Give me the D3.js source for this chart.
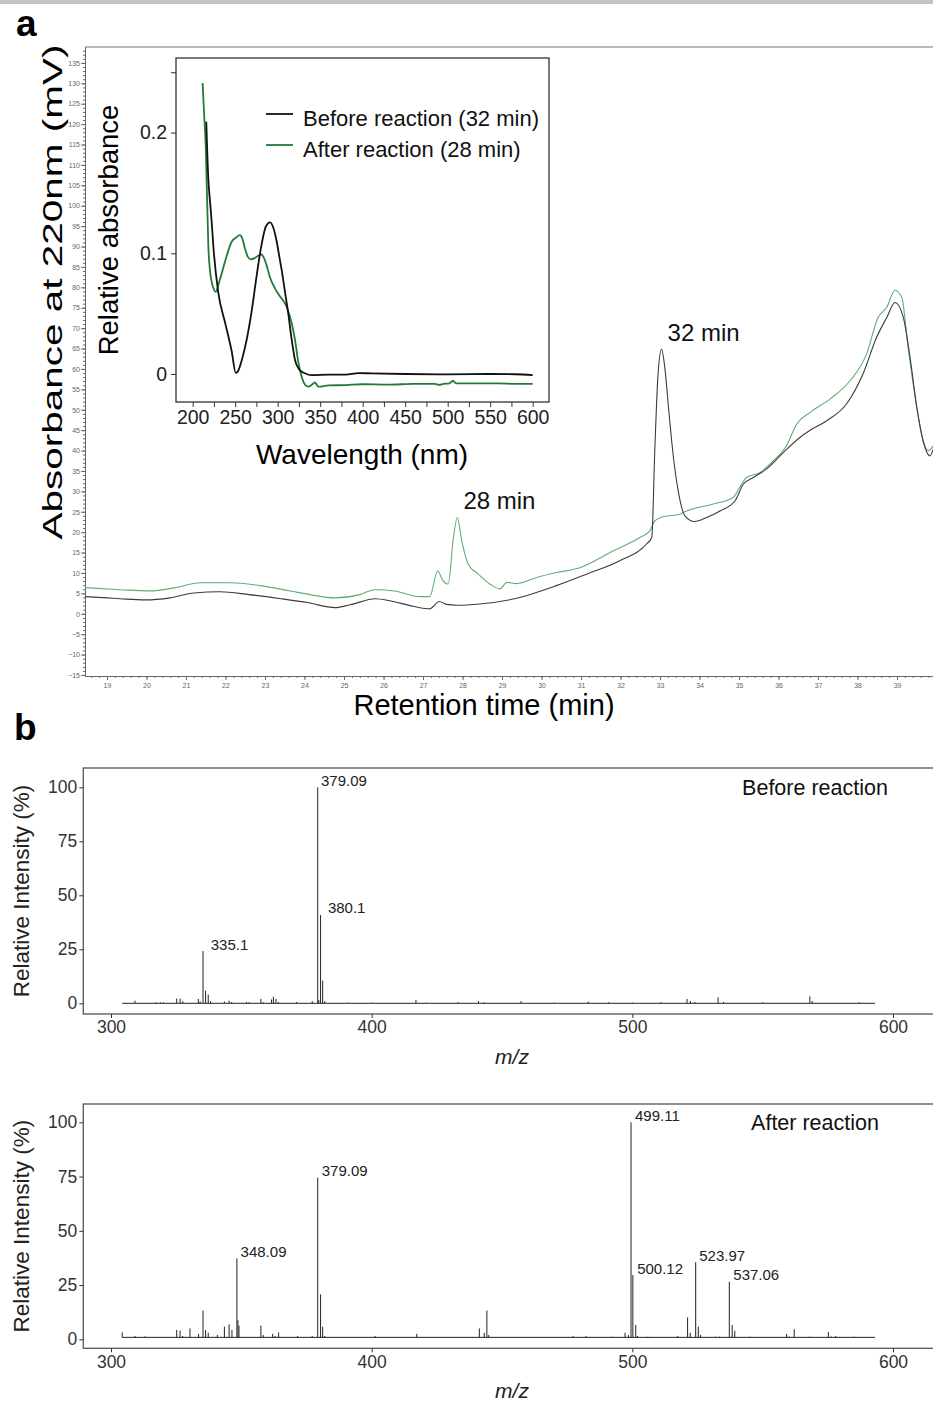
<!DOCTYPE html>
<html lang="en">
<head>
<meta charset="UTF-8">
<title>HPLC chromatogram and MS spectra</title>
<script src="https://d3js.org/d3.v7.min.js"></script>
<style>
  body { margin: 0; background: #fff; }
  svg text { font-family: "Liberation Sans", Arial, sans-serif; }
</style>
</head>
<body>
<div id="chart"></div>
<script>
// ---------- data ----------
// HPLC traces at 220 nm: [retention time (min), absorbance (mV)]
var hplcBefore = [[18.44,4.2],[19.0,3.9],[19.33,3.7],[19.96,3.4],[20.6,3.9],[21.2,5.1],[21.86,5.4],[22.6,4.7],[23.4,3.7],[24.1,2.7],[24.77,1.5],[25.15,2.2],[25.8,3.7],[26.16,3.2],[26.67,2.0],[27.05,1.3],[27.17,1.2],[27.41,3.0],[27.6,2.3],[27.85,2.1],[28.44,2.4],[29.28,3.6],[30.38,6.9],[31.14,9.7],[31.98,13.0],[32.66,17.1],[32.79,18.7],[32.87,40.8],[32.95,58.8],[33.04,64.9],[33.12,60.4],[33.23,48.9],[33.33,39.1],[33.46,30.1],[33.63,24.0],[33.88,22.6],[34.18,23.6],[34.52,25.2],[34.9,27.7],[35.11,31.8],[35.36,33.4],[35.7,35.5],[36.12,39.5],[36.54,43.2],[36.79,44.9],[37.22,47.3],[37.72,51.4],[38.14,58.8],[38.48,67.7],[38.74,72.6],[38.95,76.3],[39.16,72.6],[39.33,62.8],[39.5,50.6],[39.66,42.4],[39.83,38.7],[39.92,40.4]];
var hplcAfter = [[18.44,6.4],[19.33,5.9],[20.09,5.6],[20.73,6.4],[21.36,7.6],[22.12,7.6],[22.88,6.9],[23.64,5.6],[24.14,4.7],[24.77,3.9],[25.4,4.7],[25.78,5.9],[26.28,5.6],[26.92,4.2],[27.17,4.2],[27.37,10.5],[27.5,8.2],[27.64,7.3],[27.76,17.9],[27.87,23.6],[27.98,17.9],[28.14,12.2],[28.4,9.7],[28.69,7.3],[28.95,6.1],[29.12,7.7],[29.37,7.4],[29.88,8.9],[30.38,10.1],[30.97,11.3],[31.81,15.4],[32.49,18.7],[32.74,20.3],[32.87,22.8],[33.08,23.8],[33.5,24.4],[33.67,25.2],[34.35,26.9],[34.85,28.5],[35.02,31.0],[35.19,33.4],[35.53,34.6],[35.87,37.5],[36.2,41.2],[36.46,46.5],[36.79,49.3],[37.3,52.6],[37.81,57.1],[38.23,63.7],[38.52,72.6],[38.74,75.1],[38.95,79.3],[39.12,77.5],[39.28,65.3],[39.5,50.6],[39.66,42.4],[39.79,40.0],[39.92,41.2]];
var hplcYTicks = d3.range(-15, 136, 5);
var hplcXTicks = d3.range(19, 40, 1);
var peakNotes = [[27.87, 23.6, "28 min"], [33.04, 64.9, "32 min"]];

// UV spectra of the peaks: [wavelength (nm), relative absorbance]
var uvBefore = [[216,0.209],[218.4,0.162],[220.4,0.143],[221.5,0.134],[225,0.1],[230,0.068],[238,0.043],[246,0.0185],[250.6,0.001],[253,0.002],[258.4,0.013],[264,0.03],[269.4,0.052],[275,0.08],[281,0.107],[286,0.122],[291,0.1257],[295,0.121],[298.8,0.11],[302,0.097],[305,0.085],[308.6,0.068],[312.5,0.05],[316,0.031],[320.4,0.0116],[325,0.004],[332,0.0006],[340,-0.001],[360,-0.0005],[380,-0.0005],[395,0.0008],[410,0.0005],[450,0],[500,-0.0003],[550,0],[580,-0.0002],[600,-0.001]];
var uvAfter = [[211.7,0.241],[213.5,0.215],[215.3,0.19],[217,0.145],[218.4,0.107],[220.5,0.085],[222.3,0.0765],[225,0.07],[227,0.068],[232,0.078],[238,0.093],[245.9,0.1096],[251,0.113],[255.6,0.115],[258.5,0.112],[261.5,0.104],[265,0.097],[268.2,0.095],[273,0.096],[277,0.098],[281,0.099],[284,0.096],[287,0.09],[291,0.08],[296.8,0.071],[302,0.065],[308.6,0.0585],[312,0.053],[316.5,0.042],[320,0.03],[324.3,0.010],[327,0.001],[330.2,-0.0064],[333,-0.0095],[336,-0.0105],[340,-0.009],[343.9,-0.007],[346,-0.009],[348,-0.0105],[360,-0.0095],[380,-0.0092],[400,-0.0085],[430,-0.0088],[460,-0.0082],[485,-0.0082],[490,-0.009],[495,-0.0082],[502,-0.0078],[506,-0.0058],[510,-0.0078],[530,-0.0078],[560,-0.0078],[580,-0.0082],[600,-0.0082]];
var uvYTicks = [0, 0.1, 0.2, 0.25];
var uvXTicks = d3.range(200, 601, 25);
var uvLegend = ["Before reaction (32 min)", "After reaction (28 min)"];

// MS spectra: [m/z, relative intensity (%)]
var msBeforePeaks = [[309.2,1.2],[317.2,0.4],[319,0.4],[320.2,0.4],[325.2,2.2],[326.5,2.2],[327.5,1],[333.5,2],[334.2,0.8],[335.3,24.2],[336.3,5.8],[337.3,4],[338.2,1],[343.5,0.8],[345.3,1.2],[346.3,0.6],[352,0.6],[353,0.5],[357.5,2],[358.4,0.5],[361.6,1.8],[362.3,3],[363.3,2],[364.2,0.6],[371.2,0.6],[377.2,1],[379.3,100],[379.7,1.5],[380.4,40.9],[381.2,10.5],[382,1],[391,0.3],[400,0.3],[417,1.5],[421,0.3],[433.1,0.5],[441,1],[443,0.4],[457.3,1],[470,0.3],[483.1,0.8],[491,0.5],[500,0.3],[511,0.5],[521,2],[522.3,1],[524,0.6],[532.9,2.8],[535,0.6],[550,0.4],[568.1,3.2],[569,1],[587,0.4]];
var msAfterPeaks = [[304.3,3.2],[309.2,1.5],[313,1.3],[325.2,4.3],[326.5,4],[327.5,1.5],[330.3,5],[333.6,2.5],[335.3,13.2],[336.3,4.3],[337.3,3],[340.8,2],[343.5,5.8],[345.3,6.9],[346.4,4.3],[348.3,37.3],[348.7,8.8],[349.1,6.3],[357.5,6.3],[358.4,2],[362,2.5],[363,1.5],[364.3,3.2],[371.6,1.5],[377.2,1.5],[379.3,74.5],[380.4,20.7],[381.2,5.8],[382,1.5],[401.3,1.5],[417.3,2.5],[441.3,5],[443.2,3],[444.2,13.2],[444.9,2],[477.3,1.5],[482.2,1.5],[492,1.2],[497.2,3],[498.5,2],[499.5,100],[500.2,29.6],[501.3,6.6],[502,1.5],[506,1.2],[517.4,1.5],[521.2,10.1],[522.2,3],[524.3,35.5],[525.3,5.8],[526.2,2],[532,1.2],[533.5,1.2],[537.2,26.5],[538.3,6.6],[539.3,3.9],[545,1.2],[559.2,2.5],[560.2,1.3],[562.1,4.6],[568,1.2],[575.2,3.4],[576.3,1.3],[578,1.5],[585,1.2]];
var msBeforeLabels = [[335.3,24.2,"335.1"],[379.3,100,"379.09"],[380.4,40.9,"380.1"]];
var msAfterLabels = [[348.3,37.3,"348.09"],[379.3,74.5,"379.09"],[499.5,100,"499.11"],[500.2,29.6,"500.12"],[524.3,35.5,"523.97"],[537.2,26.5,"537.06"]];
var msRange = [304.3, 593.1];
var msXTicks = [300, 400, 500, 600];
var msYTicks = [0, 25, 50, 75, 100];

// ---------- drawing ----------
var W = 933, H = 1403;
var svg = d3.select("#chart").append("svg")
    .attr("width", W).attr("height", H).style("display", "block");
svg.append("rect").attr("width", W).attr("height", H).attr("fill", "#fff");
svg.append("rect").attr("width", W).attr("height", 4).attr("fill", "#c4c4c4");

// panel letters
svg.append("text").attr("x", 16).attr("y", 36).attr("font-size", 37).attr("font-weight", "bold").text("a");
svg.append("text").attr("x", 14).attr("y", 740).attr("font-size", 37).attr("font-weight", "bold").text("b");

// helper to restyle an axis group
function styleAxis(g, color, fontSize, textColor) {
    g.selectAll(".domain").attr("stroke", color);
    g.selectAll(".tick line").attr("stroke", color);
    g.selectAll(".tick text").attr("font-size", fontSize).attr("fill", textColor)
        .attr("font-family", '"Liberation Sans", Arial, sans-serif');
    g.attr("font-family", null).attr("font-size", null);
}

// ---- a: chromatogram ----
var xRT = d3.scaleLinear().domain([18.443, 40.1]).range([85, 940.5]);
var yRT = d3.scaleLinear().domain([-15.25, 138.9]).range([676, 47]);

var gA = svg.append("g");
svg.append("clipPath").attr("id", "clipA").append("rect")
    .attr("x", 85).attr("y", 47).attr("width", 860).attr("height", 629);

gA.append("line").attr("x1", 85).attr("x2", W).attr("y1", 47).attr("y2", 47)
    .attr("stroke", "#777").attr("stroke-width", 1.2);

var yMin = gA.append("g").attr("transform", "translate(85,0)")
    .call(d3.axisLeft(yRT).tickValues(d3.range(-15, 139, 1)).tickSize(2).tickSizeOuter(0).tickFormat(""));
styleAxis(yMin, "#666", 7, "#6f645c");
var yMaj = gA.append("g").attr("transform", "translate(85,0)")
    .call(d3.axisLeft(yRT).tickValues(hplcYTicks).tickSize(4).tickSizeOuter(0).tickPadding(1));
styleAxis(yMaj, "#666", 7, "#6f645c");

var xMin = gA.append("g").attr("transform", "translate(0,676)")
    .call(d3.axisBottom(xRT).tickValues(d3.range(18.6, 40.1, 0.2)).tickSize(2).tickSizeOuter(0).tickFormat(""));
styleAxis(xMin, "#666", 7, "#6f645c");
var xMaj = gA.append("g").attr("transform", "translate(0,676)")
    .call(d3.axisBottom(xRT).tickValues(hplcXTicks).tickSize(4).tickSizeOuter(0).tickPadding(3));
styleAxis(xMaj, "#666", 7, "#6f645c");

var lineRT = d3.line().x(function(d) { return xRT(d[0]); }).y(function(d) { return yRT(d[1]); })
    .curve(d3.curveMonotoneX);
gA.append("path").datum(hplcAfter).attr("d", lineRT).attr("clip-path", "url(#clipA)")
    .attr("fill", "none").attr("stroke", "#5fae74").attr("stroke-width", 1.1);
gA.append("path").datum(hplcBefore).attr("d", lineRT).attr("clip-path", "url(#clipA)")
    .attr("fill", "none").attr("stroke", "#3c3c3c").attr("stroke-width", 1.1);

gA.selectAll(".note").data(peakNotes).enter().append("text")
    .attr("x", function(d) { return xRT(d[0]) + 6; })
    .attr("y", function(d) { return yRT(d[1]) - 8; })
    .attr("font-size", 24).attr("fill", "#111")
    .text(function(d) { return d[2]; });

gA.append("text").attr("transform", "translate(62,292) rotate(-90)")
    .attr("text-anchor", "middle").attr("font-size", 28)
    .attr("textLength", 495).attr("lengthAdjust", "spacingAndGlyphs")
    .text("Absorbance at 220nm (mV)");
gA.append("text").attr("x", 484).attr("y", 715).attr("text-anchor", "middle")
    .attr("font-size", 29).text("Retention time (min)");

// ---- inset: UV spectra ----
var xUV = d3.scaleLinear().domain([180.4, 619.2]).range([176, 549]);
var yUV = d3.scaleLinear().domain([-0.0232, 0.2618]).range([402, 58]);
var gI = svg.append("g");
gI.append("rect").attr("x", 176).attr("y", 58).attr("width", 373).attr("height", 344)
    .attr("fill", "#fff").attr("stroke", "#333").attr("stroke-width", 1.3);

var uvY = gI.append("g").attr("transform", "translate(176,0)")
    .call(d3.axisLeft(yUV).tickValues(uvYTicks).tickSize(5).tickSizeOuter(0).tickPadding(4)
        .tickFormat(function(d) { return d === 0.25 ? "" : (d === 0 ? "0" : d3.format(".1f")(d)); }));
styleAxis(uvY, "#333", 19.5, "#222");
uvY.select(".domain").remove();
var uvX = gI.append("g").attr("transform", "translate(0,402)")
    .call(d3.axisBottom(xUV).tickValues(uvXTicks).tickSize(5).tickSizeOuter(0).tickPadding(3)
        .tickFormat(function(d) { return d % 50 === 0 ? d : ""; }));
styleAxis(uvX, "#333", 19.5, "#222");
uvX.select(".domain").remove();

var lineUV = d3.line().x(function(d) { return xUV(d[0]); }).y(function(d) { return yUV(d[1]); })
    .curve(d3.curveMonotoneX);
gI.append("path").datum(uvAfter).attr("d", lineUV)
    .attr("fill", "none").attr("stroke", "#237a37").attr("stroke-width", 1.8);
gI.append("path").datum(uvBefore).attr("d", lineUV)
    .attr("fill", "none").attr("stroke", "#111").attr("stroke-width", 1.8);

var legColors = ["#111", "#237a37"];
uvLegend.forEach(function(name, i) {
    var ly = 114 + i * 31;
    gI.append("line").attr("x1", 266).attr("x2", 293).attr("y1", ly).attr("y2", ly)
        .attr("stroke", legColors[i]).attr("stroke-width", 1.8);
    gI.append("text").attr("x", 303).attr("y", ly + 12).attr("font-size", 22)
        .attr("fill", "#111").text(name);
});

gI.append("text").attr("transform", "translate(118,230) rotate(-90)")
    .attr("text-anchor", "middle").attr("font-size", 27.5).text("Relative absorbance");
gI.append("text").attr("x", 362).attr("y", 464).attr("text-anchor", "middle")
    .attr("font-size", 28).text("Wavelength (nm)");

// ---- b: MS spectra ----
var xMS = d3.scaleLinear().domain([300, 600]).range([111, 893]);

function drawSpectrum(top, bottom, zeroY, fullY, peaks, base, labels, title, titleY, labelShift) {
    var y = d3.scaleLinear().domain([0, 100]).range([zeroY, fullY]);
    var g = svg.append("g");
    g.append("rect").attr("x", 83.3).attr("y", top).attr("width", 880).attr("height", bottom - top)
        .attr("fill", "none").attr("stroke", "#555").attr("stroke-width", 1.3);

    var ay = g.append("g").attr("transform", "translate(83.3,0)")
        .call(d3.axisLeft(y).tickValues(msYTicks).tickSize(4).tickSizeOuter(0).tickPadding(2));
    styleAxis(ay, "#333", 17.5, "#333");
    ay.select(".domain").remove();
    var ax = g.append("g").attr("transform", "translate(0," + bottom + ")")
        .call(d3.axisBottom(xMS).tickValues(msXTicks).tickSize(4).tickSizeOuter(0).tickPadding(3));
    styleAxis(ax, "#333", 17.5, "#333");
    ax.select(".domain").remove();

    // baseline of the spectrum
    g.append("line").attr("x1", xMS(msRange[0])).attr("x2", xMS(msRange[1]))
        .attr("y1", y(base)).attr("y2", y(base)).attr("stroke", "#222").attr("stroke-width", 1);
    g.selectAll(".pk").data(peaks).enter().append("line")
        .attr("x1", function(d) { return xMS(d[0]); }).attr("x2", function(d) { return xMS(d[0]); })
        .attr("y1", y(base)).attr("y2", function(d) { return y(d[1]); })
        .attr("stroke", "#222").attr("stroke-width", 1);

    g.selectAll(".lab").data(labels).enter().append("text")
        .attr("x", function(d, i) { return xMS(d[0]) + labelShift[i]; })
        .attr("y", function(d) { return y(d[1]) - 1.5; })
        .attr("font-size", 15).attr("fill", "#222").text(function(d) { return d[2]; });

    g.append("text").attr("x", 815).attr("y", titleY).attr("text-anchor", "middle")
        .attr("font-size", 21.5).attr("fill", "#111").text(title);
    g.append("text").attr("transform", "translate(29," + ((top + bottom) / 2) + ") rotate(-90)")
        .attr("text-anchor", "middle").attr("font-size", 22.5).attr("fill", "#222")
        .text("Relative Intensity (%)");
    g.append("text").attr("x", 512).attr("y", bottom + 50).attr("text-anchor", "middle")
        .attr("font-size", 21).attr("font-style", "italic").attr("fill", "#222").text("m/z");
}

drawSpectrum(768, 1014, 1003.3, 787.3, msBeforePeaks, 0, msBeforeLabels, "Before reaction", 795, [7.7, 3.3, 7.3]);
drawSpectrum(1104, 1348.3, 1339.3, 1122.3, msAfterPeaks, 0.9, msAfterLabels, "After reaction", 1130, [3.7, 4, 4, 4.3, 3.6, 4]);
</script>
</body>
</html>
